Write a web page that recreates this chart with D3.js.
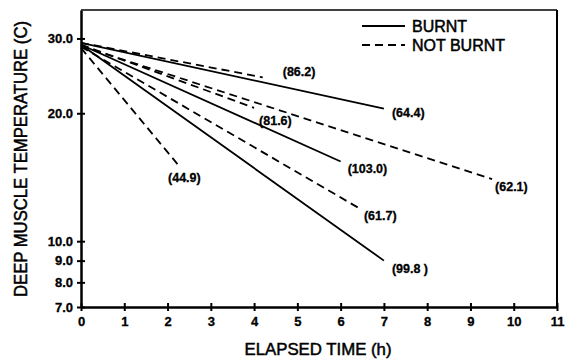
<!DOCTYPE html>
<html><head><meta charset="utf-8">
<script src="https://cdn.jsdelivr.net/npm/d3@7"></script>
<style>
body{margin:0;background:#fff;}
text{font-family:"Liberation Sans",Arial,sans-serif;fill:#000;}
</style></head>
<body><svg id="c" width="567" height="360"></svg>
<script>
// ---- data ----
const labels     = ["(64.4)","(86.2)","(81.6)","(62.1)","(103.0)","(61.7)","(99.8 )","(44.9)"];
const burnt      = [true, false, false, false, true, false, true, false];
const startTemps = [29.3, 29.3, 29.0, 28.8, 29.0, 28.7, 29.0, 28.5];
const endTimes   = [7.0, 4.2, 4.0, 9.5, 6.0, 6.4, 7.0, 2.25];
const endTemps   = [20.5, 24.3, 20.6, 14.0, 15.4, 12.0, 9.0, 15.1];
const xTicks = [0,1,2,3,4,5,6,7,8,9,10,11];
const yTicks = [7,8,9,10,20,30];
const legendItems = ["BURNT","NOT BURNT"];

// ---- layout ----
const L=81, R=557, T=10, B=307;
const svg=d3.select("#c");
const x=d3.scaleLinear().domain([0,11]).range([L,R]);
const y=d3.scaleLog().domain([7,35]).range([B,T]);

// frame top/right
svg.append("line").attr("x1",L).attr("x2",R).attr("y1",T).attr("y2",T).attr("stroke","#000").attr("stroke-width",1.5);
svg.append("line").attr("x1",R).attr("x2",R).attr("y1",T).attr("y2",B).attr("stroke","#000").attr("stroke-width",2);

// axes
const xa=svg.append("g").attr("transform",`translate(0,${B})`)
  .call(d3.axisBottom(x).tickValues(xTicks).tickFormat(d3.format("d")).tickSizeInner(4).tickSizeOuter(0).tickPadding(6));
xa.selectAll(".tick line").attr("y1",-4).attr("y2",4).attr("stroke-width",2);
xa.select(".domain").attr("stroke-width",2.5);
xa.selectAll("text").style("font-size","13px").style("font-weight","bold").attr("stroke","#000").attr("stroke-width",0.3);

const ya=svg.append("g").attr("transform",`translate(${L},0)`)
  .call(d3.axisLeft(y).tickValues(yTicks).tickFormat(d3.format(".1f")).tickSizeInner(4).tickSizeOuter(0).tickPadding(4));
ya.selectAll(".tick line").attr("x1",-4).attr("x2",4).attr("stroke-width",2);
ya.select(".domain").attr("stroke-width",2.5);
ya.selectAll("text").style("font-size","13px").style("font-weight","bold").attr("stroke","#000").attr("stroke-width",0.3);

// titles
svg.append("text").attr("x",318).attr("y",355).attr("text-anchor","middle")
  .attr("textLength",147).attr("lengthAdjust","spacingAndGlyphs")
  .attr("stroke","#000").attr("stroke-width",0.5)
  .style("font-size","17px").text("ELAPSED TIME (h)");
svg.append("text").attr("transform","translate(27,159) rotate(-90)").attr("text-anchor","middle")
  .attr("textLength",276).attr("lengthAdjust","spacingAndGlyphs")
  .attr("stroke","#000").attr("stroke-width",0.5)
  .style("font-size","18px").text("DEEP MUSCLE TEMPERATURE (C)");

// lines
const labelOff=[[8,4,"start"],[20,-6,"start"],[5,13,"start"],[3,8,"start"],[7,7,"start"],[6,8,"start"],[8,8,"start"],[6,12,"middle"]];
labels.forEach((lab,i)=>{
  svg.append("line")
    .attr("x1",x(0)).attr("y1",y(startTemps[i]))
    .attr("x2",x(endTimes[i])).attr("y2",y(endTemps[i]))
    .attr("stroke","#000").attr("stroke-width",1.8)
    .attr("stroke-dasharray",burnt[i]?null:"8,5");
  const o=labelOff[i];
  svg.append("text").attr("x",x(endTimes[i])+o[0]).attr("y",y(endTemps[i])+o[1])
    .attr("dy","0.35em").attr("text-anchor",o[2])
    .attr("stroke","#000").attr("stroke-width",0.3)
    .style("font-size","12.5px").style("font-weight","bold").text(lab);
});

// legend
legendItems.forEach((t,i)=>{
  const ly=26+i*19;
  svg.append("line").attr("x1",362).attr("x2",405).attr("y1",ly).attr("y2",ly)
    .attr("stroke","#000").attr("stroke-width",1.8).attr("stroke-dasharray",i?"8,5":null);
  svg.append("text").attr("x",412).attr("y",ly).attr("dy","0.36em")
    .attr("stroke","#000").attr("stroke-width",0.5)
    .style("font-size","16px").text(t);
});
</script></body></html>
